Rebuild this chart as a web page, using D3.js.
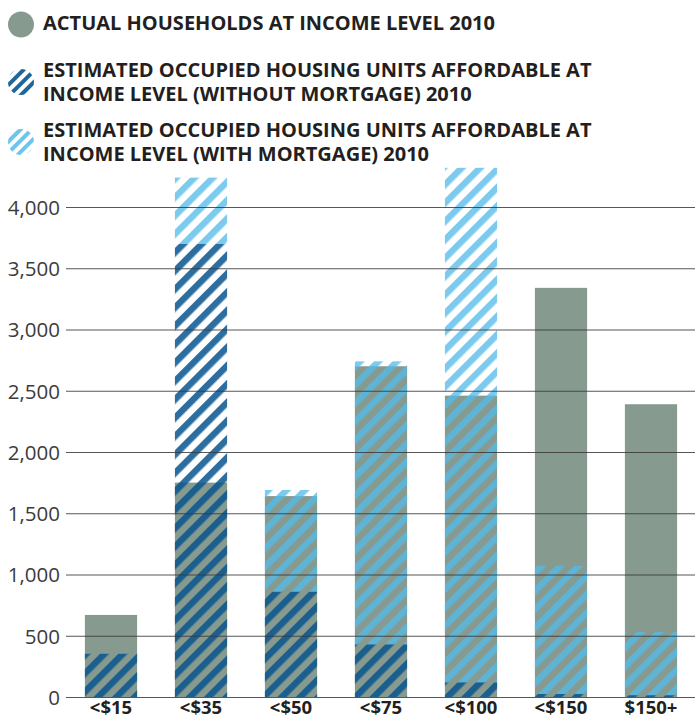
<!DOCTYPE html>
<html><head><meta charset="utf-8">
<script src="https://cdn.jsdelivr.net/npm/d3@7"></script>
<style>body{margin:0;background:#fff} svg{display:block}</style>
</head><body>
<script>
const categories = ["<$15","<$35","<$50","<$75","<$100","<$150","$150+"];
const actualHouseholds = [670,1750,1640,2700,2460,3340,2390];
const unitsWithoutMortgage = [355,3700,860,430,120,25,15];
// additional units affordable with mortgage, stacked above the without-mortgage units
const unitsWithMortgage = [5,540,830,2310,4200,1045,515];
const yTicks = [0,500,1000,1500,2000,2500,3000,3500,4000];
const legendLabels = [
  ["ACTUAL HOUSEHOLDS AT INCOME LEVEL 2010"],
  ["ESTIMATED OCCUPIED HOUSING UNITS AFFORDABLE AT","INCOME LEVEL (WITHOUT MORTGAGE) 2010"],
  ["ESTIMATED OCCUPIED HOUSING UNITS AFFORDABLE AT","INCOME LEVEL (WITH MORTGAGE) 2010"]
];

const W = 695, H = 717;
const GRAY = "#879a8f", DARK = "#08558f", LIGHT = "#53bbea";
const svg = d3.select("body").append("svg").attr("width", W).attr("height", H);
const defs = svg.append("defs");

function stripe(id, color, op, period) {
  const p = defs.append("pattern").attr("id", id)
    .attr("patternUnits", "userSpaceOnUse")
    .attr("width", period).attr("height", period)
    .attr("patternTransform", "rotate(45)");
  p.append("rect").attr("x", 0).attr("y", 0).attr("width", period / 2).attr("height", period)
    .attr("fill", color).attr("fill-opacity", op);
}
stripe("darkStripe", DARK, 0.85, 13);
stripe("lightStripe", LIGHT, 0.76, 13);
stripe("darkStripeIcon", DARK, 0.9, 8);
stripe("lightStripeIcon", LIGHT, 0.85, 8);

const x = d3.scaleBand().domain(categories).range([66, 696]).paddingInner(0.42).paddingOuter(0.21);
const y = d3.scaleLinear().domain([0, 4000]).range([697, 207]);

const rows = categories.map((c, i) => ({
  c, actual: actualHouseholds[i], wo: unitsWithoutMortgage[i], wm: unitsWithMortgage[i]
}));

// bars
const g = svg.append("g");
g.selectAll("rect.actual").data(rows).join("rect").attr("class", "actual")
  .attr("x", d => x(d.c)).attr("width", x.bandwidth())
  .attr("y", d => y(d.actual)).attr("height", d => y(0) - y(d.actual))
  .attr("fill", GRAY);
g.selectAll("rect.wo").data(rows).join("rect").attr("class", "wo")
  .attr("x", d => x(d.c)).attr("width", x.bandwidth())
  .attr("y", d => y(d.wo)).attr("height", d => y(0) - y(d.wo))
  .attr("fill", "url(#darkStripe)");
g.selectAll("rect.wm").data(rows).join("rect").attr("class", "wm")
  .attr("x", d => x(d.c)).attr("width", x.bandwidth())
  .attr("y", d => y(d.wo + d.wm)).attr("height", d => y(d.wo) - y(d.wo + d.wm))
  .attr("fill", "url(#lightStripe)");

// y axis with gridlines on top
const yAxis = svg.append("g").attr("transform", "translate(66,0)")
  .call(d3.axisLeft(y).tickValues(yTicks).tickSize(-(W - 66)).tickPadding(6).tickFormat(d3.format(",")));
yAxis.select(".domain").remove();
yAxis.selectAll(".tick line").attr("stroke", "#3a3a3a").attr("stroke-opacity", 0.85).attr("stroke-width", 1.2);
yAxis.selectAll(".tick text").attr("font-family", "'Open Sans', sans-serif").attr("font-size", 20.5)
  .attr("fill", "#3c3c3c").attr("dy", "0.36em");

// x axis labels
const xAxis = svg.append("g").attr("transform", "translate(0,697)")
  .call(d3.axisBottom(x).tickSize(0).tickPadding(0));
xAxis.select(".domain").remove();
xAxis.selectAll(".tick text").attr("font-family", "'Open Sans', sans-serif").attr("font-weight", 700)
  .attr("font-size", 18.5).attr("fill", "#231f20").attr("y", 17).attr("dy", 0);

// legend
const legendY = [24.5, 82, 142];
const textY = [[30], [76.5, 100.5], [136.5, 160.5]];
const fills = [GRAY, "url(#darkStripeIcon)", "url(#lightStripeIcon)"];
const lg = svg.append("g");
legendLabels.forEach((lines, i) => {
  lg.append("circle").attr("cx", 21).attr("cy", legendY[i]).attr("r", 13).attr("fill", fills[i]);
  lines.forEach((t, j) => {
    lg.append("text").attr("x", 43).attr("y", textY[i][j]).text(t)
      .attr("font-family", "'Open Sans', sans-serif").attr("font-weight", 700)
      .attr("font-size", 20).attr("fill", "#231f20");
  });
});
</script>
</body></html>
